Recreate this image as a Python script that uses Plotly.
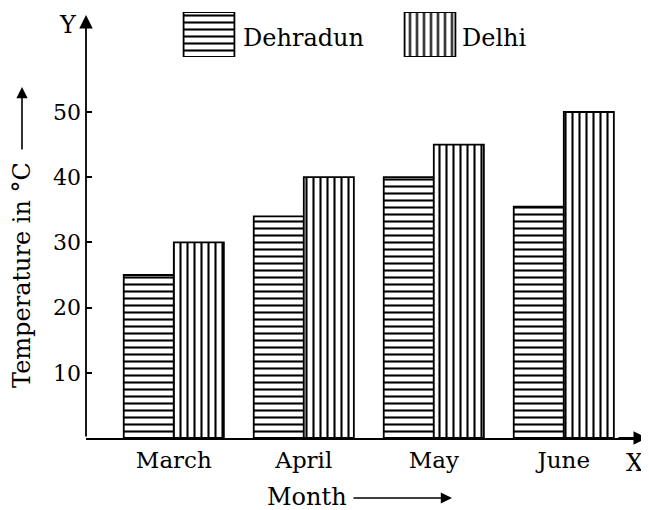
import plotly.graph_objects as go

months = ["March", "April", "May", "June"]
dehradun = [25, 34, 40, 35.5]
delhi = [30, 40, 45, 50]
series_names = ["Dehradun", "Delhi"]
y_ticks = [10, 20, 30, 40, 50]

FONT = "DejaVu Serif"
OFF = 8  # page body margin
W, H = 649 - OFF, 510 - OFF
# plot area in screen pixels
SX0, SX1, SY0, SY1 = 86, 647, 8, 438
ML, MR = SX0 - OFF, W - (SX1 - OFF)
MT, MB = SY0 - OFF, H - (SY1 - OFF)
PW = SX1 - SX0
PH = SY1 - SY0
PX_PER_UNIT = 6.52
YMAX = PH / PX_PER_UNIT
CAT_PX = 130.0
X0 = -(173.8 - SX0) / CAT_PX
X1 = X0 + PW / CAT_PX


def pat(shape):
    return dict(shape=shape, fgcolor="black", bgcolor="white", size=7,
                solidity=0.3, fillmode="replace")


def px_x(p):
    return (p - SX0) / PW


def px_y(p):
    return (SY1 - p) / PH


fig = go.Figure()
fig.add_trace(go.Bar(x=months, y=dehradun, name=series_names[0],
                     marker=dict(color="white", line=dict(color="black", width=1.8),
                                 pattern=pat("-")), showlegend=False))
fig.add_trace(go.Bar(x=months, y=delhi, name=series_names[1],
                     marker=dict(color="white", line=dict(color="black", width=1.8),
                                 pattern=pat("|")), showlegend=False))

# legend swatches on an auxiliary axis
fig.add_trace(go.Bar(x=[series_names[0]], y=[1], xaxis="x2", yaxis="y2", width=0.23,
                     marker=dict(color="white", line=dict(color="black", width=1.8),
                                 pattern=pat("-")), showlegend=False, hoverinfo="skip"))
fig.add_trace(go.Bar(x=[series_names[1]], y=[1], xaxis="x2", yaxis="y2", width=0.23,
                     marker=dict(color="white", line=dict(color="black", width=1.8),
                                 pattern=pat("|")), showlegend=False, hoverinfo="skip"))

TXT = dict(family=FONT, size=24, color="black")


def label(sx, sy, text, **kw):
    d = dict(x=px_x(sx), y=px_y(sy), xref="paper", yref="paper", text=text,
             showarrow=False, xanchor="center", yanchor="middle", font=TXT)
    d.update(kw)
    return d


def arrow(sx, sy, ax, ay, width=1.6, size=1.2):
    return dict(x=px_x(sx), y=px_y(sy), xref="paper", yref="paper", ax=ax, ay=ay,
                text="", showarrow=True, arrowhead=2, arrowsize=size,
                arrowwidth=width, arrowcolor="black")


annotations = [
    # y axis line with arrow head
    arrow(SX0, 15, 0, SY1 - 15, 1.8, 1.5),
    # x axis arrow head
    arrow(SX1, SY1, -30, 0, 1.8, 1.5),
    label(68, 25, "Y"),
    label(634, 463, "X"),
    label(22, 275, "Temperature in °C", textangle=-90),
    arrow(22, 87, 0, 64, 1.6, 1.4),
    label(307, 497, "Month"),
    arrow(452, 498, -100, 0, 1.6, 1.4),
    label(241, 38, series_names[0], xanchor="left"),
    label(460, 38, series_names[1], xanchor="left"),
]

fig.update_layout(
    width=W, height=H,
    margin=dict(l=ML, r=MR, t=MT, b=MB, autoexpand=False),
    paper_bgcolor="white", plot_bgcolor="white",
    barmode="group", bargap=0.23, bargroupgap=0,
    font=dict(family=FONT, color="black"),
    showlegend=False,
    annotations=annotations,
    xaxis=dict(range=[X0, X1], showgrid=False, zeroline=False, showline=True,
               linecolor="black", linewidth=1.8, ticks="",
               tickfont=dict(family=FONT, size=23, color="black"), fixedrange=True),
    yaxis=dict(range=[0, YMAX], showgrid=False, zeroline=False, showline=False,
               tickvals=y_ticks, ticks="inside", ticklen=6, tickwidth=1.5, tickcolor="black",
               ticklabelstandoff=4,
               tickfont=dict(family=FONT, size=22, color="black"), fixedrange=True),
    xaxis2=dict(domain=[px_x(98.5), px_x(540.5)], range=[-0.5, 1.5], anchor="y2",
                visible=False, categoryorder="array", categoryarray=series_names),
    yaxis2=dict(domain=[px_y(57), px_y(12)], range=[0, 1], anchor="x2", visible=False),
)

fig.write_html("out.html")
